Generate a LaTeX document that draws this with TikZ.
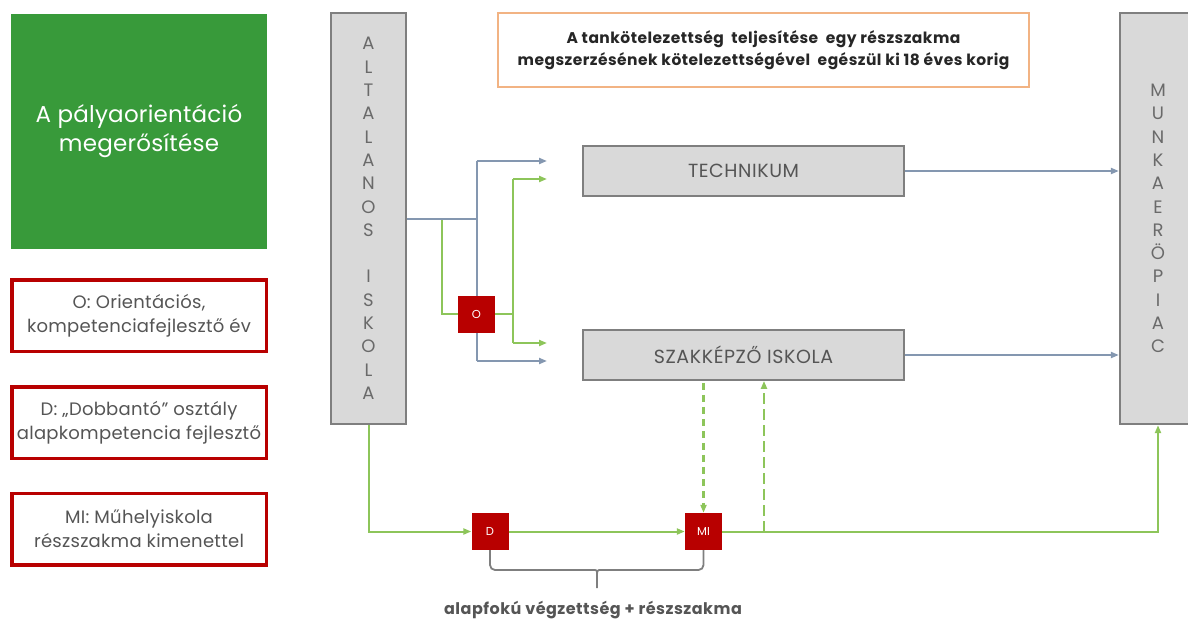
\documentclass[tikz,border=0pt]{standalone}
\usepackage{fontspec}
\setmainfont{Poppins}
\usetikzlibrary{arrows.meta,calc}
\definecolor{boxgray}{HTML}{D9D9D9}
\definecolor{boxline}{HTML}{7F7F7F}
\definecolor{conblue}{HTML}{8497B0}
\definecolor{congreen}{HTML}{8DC55A}
\definecolor{darkred}{HTML}{B80000}
\definecolor{leafgreen}{HTML}{389A3A}
\definecolor{orangeline}{HTML}{F2B383}
\definecolor{txtgray}{HTML}{555555}
\definecolor{lettgray}{HTML}{6A6A6A}
\tikzset{
  graybox/.style={draw=boxline, fill=boxgray, line width=1.8pt, inner sep=0pt, text=txtgray, align=center},
  redsq/.style={fill=darkred, minimum size=37pt, inner sep=0pt, text=white, font=\fontsize{11.5}{13}\selectfont},
  legendbox/.style={draw=darkred, line width=3.5pt, fill=white, minimum width=254.5pt, minimum height=71.5pt, align=center, text=txtgray, font=\fontsize{18}{24}\selectfont\addfontfeatures{LetterSpace=1.5}, inner sep=0pt},
  blueline/.style={draw=conblue, line width=2pt},
  greenline/.style={draw=congreen, line width=2pt},
  arr/.style={-{Triangle[length=8pt,width=6pt]}},
  vertletters/.style={font=\fontsize{18}{23.3}\selectfont, text=lettgray},
  schooltext/.style={font=\fontsize{19}{22}\selectfont\addfontfeatures{LetterSpace=3}},
}
\begin{document}
\begin{tikzpicture}[x=1pt,y=-1pt]
\useasboundingbox (0,0) rectangle (1188,621);
% left column
\node[fill=leafgreen, minimum width=256pt, minimum height=235pt, inner sep=0pt, text=white, align=center, font=\fontsize{23}{29}\selectfont\addfontfeatures{LetterSpace=1}] (green) at (139,131) {A pályaorientáció\\megerősítése};
\node[legendbox] (legO) at (139,315.5) {O: Orientációs,\\kompetenciafejlesztő év};
\node[legendbox] (legD) at (139,422.5) {D: „Dobbantó” osztály\\alapkompetencia fejlesztő};
\node[legendbox] (legMI) at (139,529) {MI: Műhelyiskola\\részszakma kimenettel};
% big columns
\node[graybox, minimum width=75.5pt, minimum height=411.5pt, vertletters] (alt) at (368.5,218.5)
  {A\\L\\T\\A\\L\\A\\N\\O\\S\\[23.3pt]I\\S\\K\\O\\L\\A};
\node[graybox, minimum width=76.5pt, minimum height=411.5pt, vertletters] (rb) at (1158,218.5)
  {M\\U\\N\\K\\A\\E\\R\\Ö\\P\\I\\A\\C};
% top note
\node[draw=orangeline, line width=2.4pt, fill=white, minimum width=531pt, minimum height=74pt, inner sep=0pt, align=center, font=\bfseries\fontsize{15.5}{22}\selectfont\addfontfeatures{LetterSpace=3}, text=black!85] (note) at (763.5,50)
  {A tankötelezettség\ \ teljesítése\ \ egy részszakma\\megszerzésének kötelezettségével\ \ egészül ki 18 éves korig};
% schools
\node[graybox, minimum width=321.5pt, minimum height=50pt, schooltext] (tech) at (743.5,171) {TECHNIKUM};
\node[graybox, minimum width=321.5pt, minimum height=50pt, schooltext] (szak) at (743.5,355) {SZAKKÉPZŐ ISKOLA};
% small red squares
\node[redsq] (O) at (476.5,314) {O};
\node[redsq] (D) at (490,531.5) {D};
\node[redsq] (MI) at (703.5,531.5) {MI};
% coordinates
\coordinate (bt) at (476.5,161);
\coordinate (bb) at (476.5,361);
\coordinate (bta) at (547,161);
\coordinate (bba) at (547,361);
\coordinate (g1) at (442,218.5);
\coordinate (gt) at (513,179);
\coordinate (gb) at (513,343);
\coordinate (gta) at (547,179);
\coordinate (gba) at (547,343);
\coordinate (up) at (764,531.5);
% green fork through O
\draw[greenline] (g1) |- (O.west);
\draw[greenline] (O.east) -- (O.east -| gt);
\draw[greenline] (gt) -- (gb);
\draw[greenline, arr] (gt) -- (gta);
\draw[greenline, arr] (gb) -- (gba);
% blue fork
\draw[blueline] (alt.east) -- (alt.east -| bt);
\draw[blueline] (bt) -- (bb);
\draw[blueline, arr] (bt) -- (bta);
\draw[blueline, arr] (bb) -- (bba);
\node[redsq] at (O) {O};
% to labour market
\draw[blueline, arr] (tech.east) -- (tech.east -| rb.west);
\draw[blueline, arr] (szak.east) -- (szak.east -| rb.west);
% bottom green path
\draw[greenline, arr] (alt.south) |- (D.west);
\draw[greenline, arr] (D.east) -- (MI.west);
\draw[greenline, arr] (MI.east) -| (rb.south);
\draw[greenline, line width=2.2pt, dash pattern=on 7pt off 5pt, arr] ([yshift=-2pt]MI.north |- szak.south) -- (MI.north);
\draw[greenline, line width=2.2pt, dash pattern=on 11pt off 5pt, arr] (up) -- (up |- szak.south);
% brace
\draw[draw=boxline, line width=1.8pt, rounded corners=5pt] (D.south) -- (490,570) -- (590,570) .. controls (597,570) .. (597,580) -- (597,588);
\draw[draw=boxline, line width=1.8pt, rounded corners=5pt] (MI.south) -- (703.5,570) -- (604,570) .. controls (597,570) .. (597,580);
\node[font=\bfseries\fontsize{16}{18}\selectfont\addfontfeatures{LetterSpace=3}, text=txtgray] (lbl) at (593,610) {alapfokú végzettség + részszakma};
\end{tikzpicture}
\end{document}
